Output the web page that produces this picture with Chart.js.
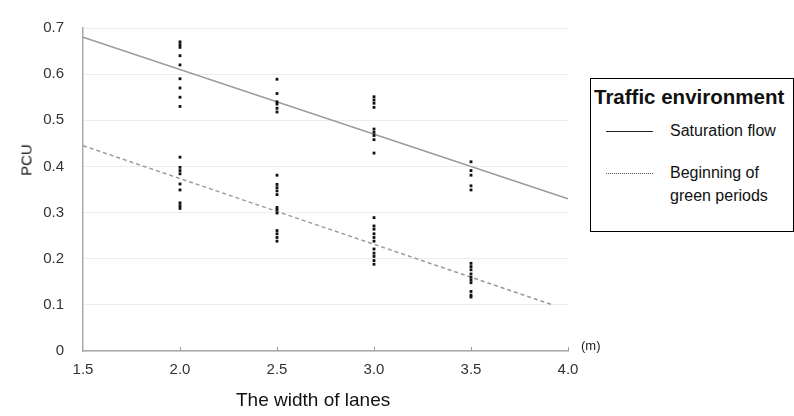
<!DOCTYPE html>
<html>
<head>
<meta charset="utf-8">
<script src="https://cdn.jsdelivr.net/npm/chart.js@4.4.1/dist/chart.umd.min.js"></script>
<style>
    html, body { margin: 0; padding: 0; background: #fff; }
    #wrap { position: relative; width: 794px; height: 416px; font-family: "Liberation Sans", Arial, sans-serif; }
    #legende {
        position: absolute; left: 590px; top: 78px; width: 202px; height: 152px;
        border: 1px solid #000; background: #fff; color: #111;
    }
    #legende .titulo { position: absolute; left: 3px; top: 6px; font-weight: bold; font-size: 20.5px; white-space: nowrap; }
    #legende .item { position: absolute; left: 79px; font-size: 16px; line-height: 23px; white-space: nowrap; }
    #legende .amostra { position: absolute; left: 15px; width: 47px; height: 0; }
    #unidade { position: absolute; left: 581px; top: 338px; font-size: 13px; color: #222; }
    #tituloX { position: absolute; left: 236px; top: 389px; font-size: 19px; color: #111; white-space: nowrap; }
    #tituloY { position: absolute; left: 26px; top: 160px; font-size: 15px; color: #111;
               transform: translate(-50%, -50%) rotate(-90deg); white-space: nowrap; }
</style>
</head>
<body>
<div id="wrap">
    <canvas id="grafico" width="794" height="416"></canvas>
    <div id="unidade">(m)</div>
    <div id="tituloX">The width of lanes</div>
    <div id="tituloY">PCU</div>
    <div id="legende">
        <div class="titulo">Traffic environment</div>
        <div class="amostra" style="top:52px;border-top:1px solid #222;"></div>
        <div class="item" style="top:40px;">Saturation flow</div>
        <div class="amostra" style="top:94px;border-top:1px dotted #555;"></div>
        <div class="item" style="top:82px;">Beginning of<br>green periods</div>
    </div>
</div>
<script>
// larguras das faixas (m) onde foram medidos os pontos
const larguras = [2.0, 2.5, 3.0, 3.5];

// observações - fluxo de saturação
const obsSaturacao = [
    [0.670, 0.664, 0.658, 0.640, 0.620, 0.590, 0.570, 0.550, 0.530],
    [0.589, 0.558, 0.540, 0.535, 0.526, 0.518],
    [0.551, 0.544, 0.537, 0.528, 0.481, 0.474, 0.467, 0.458, 0.429],
    [0.410, 0.391, 0.381, 0.358, 0.349]
];

// observações - início do verde
const obsInicioVerde = [
    [0.420, 0.398, 0.391, 0.384, 0.362, 0.349, 0.321, 0.315, 0.309],
    [0.381, 0.361, 0.354, 0.347, 0.339, 0.311, 0.306, 0.299, 0.261, 0.254, 0.246, 0.238],
    [0.289, 0.271, 0.264, 0.254, 0.246, 0.238, 0.221, 0.212, 0.205, 0.196, 0.188],
    [0.190, 0.183, 0.176, 0.167, 0.160, 0.154, 0.148, 0.129, 0.121, 0.117]
];

// retas de regressão (extremos)
const retaSaturacaoX = [1.5, 4.0];
const retaSaturacaoY = [0.68, 0.33];
const retaVerdeX = [1.5, 3.92];
const retaVerdeY = [0.445, 0.10];

const ticksX = [1.5, 2.0, 2.5, 3.0, 3.5, 4.0];

function montarPontos(grupos) {
    const pontos = [];
    grupos.forEach((valores, i) => {
        valores.forEach(v => pontos.push({ x: larguras[i], y: v }));
    });
    return pontos;
}

function montarReta(xs, ys) {
    return xs.map((x, i) => ({ x, y: ys[i] }));
}

// pequenos traços para dentro no eixo x
const tracosEixo = {
    id: 'tracosEixo',
    afterDraw(chart) {
        const ctx = chart.ctx;
        const sx = chart.scales.x;
        const y0 = chart.scales.y.getPixelForValue(0);
        ctx.save();
        ctx.strokeStyle = '#999';
        ctx.lineWidth = 1;
        ticksX.slice(1).forEach(v => {
            const px = Math.round(sx.getPixelForValue(v)) + 0.5;
            ctx.beginPath();
            ctx.moveTo(px, y0);
            ctx.lineTo(px, y0 - 4);
            ctx.stroke();
        });
        ctx.restore();
    }
};

Chart.defaults.font.family = '"Liberation Sans", Arial, sans-serif';
Chart.defaults.color = '#222';

new Chart(document.getElementById('grafico').getContext('2d'), {
    type: 'scatter',
    data: {
        datasets: [
            {
                label: 'Saturation flow',
                data: montarReta(retaSaturacaoX, retaSaturacaoY),
                showLine: true,
                borderColor: '#999',
                borderWidth: 1.5,
                pointRadius: 0,
                order: 2
            },
            {
                label: 'Beginning of green periods',
                data: montarReta(retaVerdeX, retaVerdeY),
                showLine: true,
                borderColor: '#999',
                borderWidth: 1.5,
                borderDash: [4, 3],
                pointRadius: 0,
                order: 2
            },
            {
                label: 'obs1',
                data: montarPontos(obsSaturacao),
                pointStyle: 'rect',
                pointRadius: 2,
                backgroundColor: '#111',
                borderColor: '#111',
                borderWidth: 0,
                order: 1
            },
            {
                label: 'obs2',
                data: montarPontos(obsInicioVerde),
                pointStyle: 'rect',
                pointRadius: 2,
                backgroundColor: '#111',
                borderColor: '#111',
                borderWidth: 0,
                order: 1
            }
        ]
    },
    options: {
        responsive: false,
        animation: false,
        layout: { padding: { left: 0, top: 15, right: 226, bottom: 0 } },
        plugins: { legend: { display: false }, tooltip: { enabled: false } },
        scales: {
            x: {
                type: 'linear',
                min: 1.5,
                max: 4.0,
                afterBuildTicks: scale => { scale.ticks = ticksX.map(v => ({ value: v })); },
                afterFit: scale => { scale.height = 65; },
                grid: { display: false },
                border: { color: '#aaa', width: 1.5 },
                ticks: {
                    padding: 2,
                    font: { size: 15 },
                    color: '#333',
                    callback: v => v.toFixed(1)
                }
            },
            y: {
                min: 0,
                max: 0.7,
                afterFit: scale => { scale.width = 83; },
                grid: { color: '#ececec', drawTicks: false, lineWidth: 1 },
                border: { color: '#aaa', width: 1.5 },
                ticks: {
                    stepSize: 0.1,
                    padding: 19,
                    font: { size: 15 },
                    color: '#333',
                    callback: v => v === 0 ? '0' : v.toFixed(1)
                }
            }
        }
    },
    plugins: [tracosEixo]
});
</script>
</body>
</html>
